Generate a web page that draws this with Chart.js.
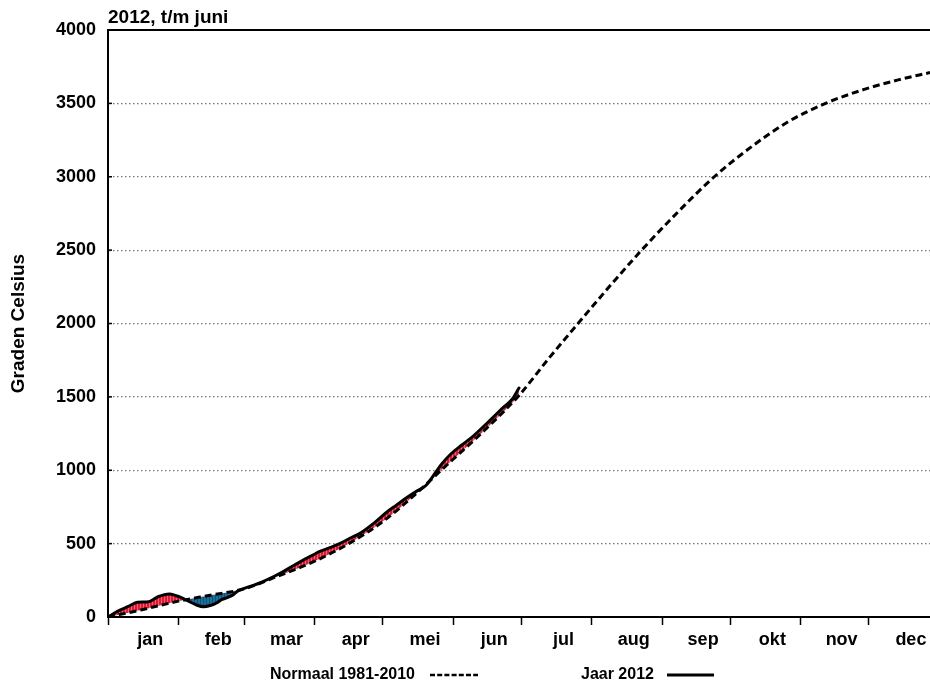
<!DOCTYPE html>
<html><head><meta charset="utf-8">
<script src="https://cdn.jsdelivr.net/npm/chart.js@4/dist/chart.umd.min.js"></script>
<style>html,body{margin:0;padding:0;background:#fff}</style>
</head><body>
<canvas id="c" width="930" height="686"></canvas>
<script>
// ---- data ----
const monthNames = ['jan','feb','mar','apr','mei','jun','jul','aug','sep','okt','nov','dec'];
const monthStartDays = [0,31,60,91,121,152,182,213,244,274,305,335];
const yearEndDay = 366;

const normalDays   = [0,15,31,45,60,75,91,106,121,136,146,152,167,181,194,207,221,235,251,267,283,299,316,333,348,362];
const normalValues = [0,50,108,148,192,280,380,500,650,845,990,1075,1290,1510,1760,2000,2255,2500,2760,3000,3200,3370,3500,3595,3660,3710];

const days2012   = [0,5,9,13,18,22,27,30,32,35,39,42,45,48,50,53,55,57,60,64,68,73,77,82,86,90,93,98,102,107,111,117,123,127,131,136,140,143,147,151,156,161,168,174,178,181];
const values2012 = [0,45,72,100,104,138,157,145,134,111,82,70,78,97,118,135,150,175,195,216,240,276,308,353,388,420,445,474,500,540,570,638,717,762,807,858,896,957,1043,1111,1174,1235,1337,1427,1484,1560];

const titleText = '2012, t/m juni';
const yTitle = 'Graden Celsius';
const legendNormal = 'Normaal 1981-2010';
const legend2012 = 'Jaar 2012';

// ---- helpers ----
const FAM = '"Liberation Sans", Arial, Helvetica, sans-serif';
const monthMids = monthStartDays.map((d,i) => (d + (i < 11 ? monthStartDays[i+1] : yearEndDay)) / 2);
const xTicks = [];
monthStartDays.forEach((d,i) => { xTicks.push(d); xTicks.push(monthMids[i]); });

function makePattern(base, stripe){
  const c = document.createElement('canvas'); c.width = 3; c.height = 4;
  const g = c.getContext('2d');
  g.fillStyle = base; g.fillRect(0,0,3,4);
  g.fillStyle = stripe; g.fillRect(2,0,1,4);
  return document.createElement('canvas').getContext('2d').createPattern(c, 'repeat');
}
const redPat = makePattern('#ea1330', '#f4687a');
const bluePat = makePattern('#1c6f98', '#0f4f72');

const deco = {
  id: 'deco',
  afterDraw(chart){
    const {ctx, chartArea: a, scales: {y}} = chart;
    ctx.save();
    ctx.strokeStyle = '#000';
    ctx.lineWidth = 2;
    ctx.beginPath(); ctx.moveTo(a.left - 1, a.top); ctx.lineTo(a.right, a.top); ctx.stroke();
    ctx.lineWidth = 1.5;
    y.ticks.forEach(t => {
      const py = y.getPixelForValue(t.value);
      ctx.beginPath(); ctx.moveTo(a.left, py); ctx.lineTo(a.left + 4, py); ctx.stroke();
    });
    ctx.fillStyle = '#000';
    ctx.textAlign = 'left';
    ctx.textBaseline = 'alphabetic';
    ctx.font = 'bold 19px ' + FAM;
    ctx.fillText(titleText, a.left, 23);
    // legend
    ctx.font = 'bold 16px ' + FAM;
    ctx.textBaseline = 'middle';
    const ly = 675;
    ctx.fillText(legendNormal, 270, ly);
    ctx.lineWidth = 2.5;
    ctx.setLineDash([5, 2.2]);
    ctx.beginPath(); ctx.moveTo(430, ly); ctx.lineTo(478, ly); ctx.stroke();
    ctx.setLineDash([]);
    ctx.fillText(legend2012, 581, ly);
    ctx.lineWidth = 3;
    ctx.beginPath(); ctx.moveTo(667, ly); ctx.lineTo(714, ly); ctx.stroke();
    ctx.restore();
  }
};

new Chart(document.getElementById('c'), {
  type: 'line',
  data: {
    datasets: [
      {
        label: legendNormal,
        data: normalDays.map((d,i) => ({x: d, y: normalValues[i]})),
        borderColor: '#000', borderWidth: 3, borderDash: [7,4],
        pointRadius: 0, fill: false, cubicInterpolationMode: 'monotone'
      },
      {
        label: legend2012,
        data: days2012.map((d,i) => ({x: d, y: values2012[i]})),
        borderColor: '#000', borderWidth: 3, borderCapStyle: 'round',
        pointRadius: 0, cubicInterpolationMode: 'monotone',
        fill: {target: 0, above: redPat, below: bluePat}
      }
    ]
  },
  options: {
    responsive: false,
    animation: false,
    devicePixelRatio: 1,
    layout: {padding: {top: 30, left: 0, right: 0, bottom: 0}},
    plugins: {legend: {display: false}, tooltip: {enabled: false}},
    scales: {
      x: {
        type: 'linear', min: 0, max: 362,
        afterBuildTicks: s => { s.ticks = xTicks.map(v => ({value: v})); },
        afterFit: s => { s.height = 69; },
        grid: {
          drawOnChartArea: false, drawTicks: true, tickLength: 8, tickWidth: 1.5,
          tickColor: c => (c.tick && monthStartDays.includes(c.tick.value)) ? '#000' : 'rgba(0,0,0,0)'
        },
        border: {color: '#000', width: 2},
        ticks: {
          autoSkip: false, maxRotation: 0, minRotation: 0, padding: 4, labelOffset: 7,
          color: '#000', font: {family: FAM, size: 18, weight: 'bold'},
          callback: v => { const i = monthMids.indexOf(v); return i >= 0 ? monthNames[i] : ''; }
        }
      },
      y: {
        min: 0, max: 4000,
        afterFit: s => { s.width = 108; },
        ticks: {stepSize: 500, padding: 12, color: '#000', font: {family: FAM, size: 18, weight: 'bold'},
          callback: v => String(v)},
        grid: {
          drawTicks: false, lineWidth: 1.2,
          color: c => (!c.tick || c.tick.value === 0 || c.tick.value === 4000) ? 'rgba(0,0,0,0)' : '#7a7a7a'
        },
        border: {color: '#000', width: 2, dash: [1.5, 2.5]},
        title: {display: true, text: yTitle, color: '#000', font: {family: FAM, size: 19, weight: 'bold'}, padding: {top: 7, bottom: 0}}
      }
    }
  },
  plugins: [deco]
});
</script>
</body></html>
